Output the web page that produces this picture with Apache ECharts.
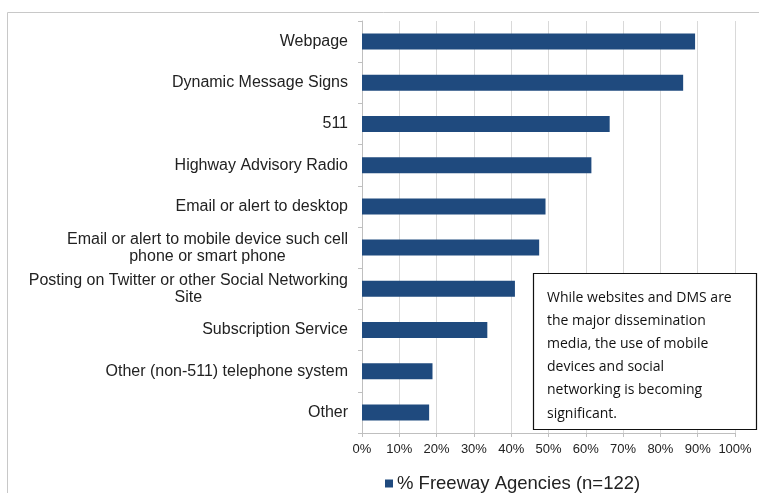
<!DOCTYPE html>
<html>
<head>
<meta charset="utf-8">
<script src="https://cdn.jsdelivr.net/npm/echarts@6/dist/echarts.min.js"></script>
<style>
html,body{margin:0;padding:0;background:#fff;}
#c{width:759px;height:493px;}
</style>
</head>
<body>
<div id="c"></div>
<script>
const categories = [
  "Webpage",
  "Dynamic Message Signs",
  "511",
  "Highway Advisory Radio",
  "Email or alert to desktop",
  "Email or alert to mobile device such cell\nphone or smart phone",
  "Posting on Twitter or other Social Networking\nSite",
  "Subscription Service",
  "Other (non-511) telephone system",
  "Other"
];
const values = [89.3, 86.1, 66.4, 61.5, 49.2, 47.5, 41.0, 33.6, 18.9, 18.0];
const seriesName = "% Freeway Agencies (n=122)";
const xTicks = [0, 10, 20, 30, 40, 50, 60, 70, 80, 90, 100];
const noteLines = [
  "While websites and DMS are",
  "the major dissemination",
  "media, the use of mobile",
  "devices and social",
  "networking is becoming",
  "significant."
];

const chart = echarts.init(document.getElementById('c'), null, {renderer: 'canvas'});
chart.setOption({
  animation: false,
  backgroundColor: '#fff',
  grid: {left: 362, right: 24, top: 21, bottom: 60, containLabel: false},
  legend: {
    top: 469, left: 380,
    itemWidth: 8, itemHeight: 8, itemGap: 4,
    icon: 'rect',
    textStyle: {fontFamily: 'Liberation Sans, Arial', fontSize: 18.5, color: '#222', padding: [0, 0, 0, -1]},
    data: [seriesName]
  },
  xAxis: {
    type: 'value', min: 0, max: 100, interval: 10,
    axisLine: {show: true, lineStyle: {color: '#bfbfbf'}},
    axisTick: {show: true, length: 4, lineStyle: {color: '#bfbfbf'}},
    splitLine: {show: true, lineStyle: {color: '#d9d9d9', width: 1}},
    axisLabel: {
      fontFamily: 'Liberation Sans, Arial', fontSize: 13, color: '#222', margin: 10,
      formatter: v => xTicks.includes(v) ? v + '%' : ''
    }
  },
  yAxis: {
    type: 'category', inverse: true, data: categories,
    axisLine: {show: true, lineStyle: {color: '#bfbfbf'}},
    axisTick: {show: true, length: 4, lineStyle: {color: '#bfbfbf'}},
    axisLabel: {
      fontFamily: 'Liberation Sans, Arial', fontSize: 16, color: '#222', margin: 14,
      align: 'right',
      formatter: v => v.split('\n').map(s => '{c|' + s + '}').join('\n'),
      rich: {
        c: {align: 'center', fontFamily: 'Liberation Sans, Arial', fontSize: 16, color: '#222', lineHeight: 17}
      }
    }
  },
  series: [{
    name: seriesName, type: 'bar', data: values,
    barWidth: 16,
    itemStyle: {color: '#1F4A7E'}
  }],
  graphic: [
    {
      type: 'rect', silent: true, z: -1,
      shape: {x: 7.5, y: 12.5, width: 800, height: 520},
      style: {fill: 'none', stroke: '#c8c8c8', lineWidth: 1}
    },
    {
      type: 'rect', zlevel: 1, z: 100,
      shape: {x: 533.5, y: 273.5, width: 223, height: 156},
      style: {fill: '#fff', stroke: '#111', lineWidth: 1.2}
    },
    {
      type: 'text', zlevel: 1, z: 101, left: 547, top: 286,
      style: {
        text: noteLines.join('\n'),
        font: '14px "Open Sans", "Noto Sans", sans-serif',
        lineHeight: 23.2,
        fill: '#111'
      }
    }
  ]
});
</script>
</body>
</html>
